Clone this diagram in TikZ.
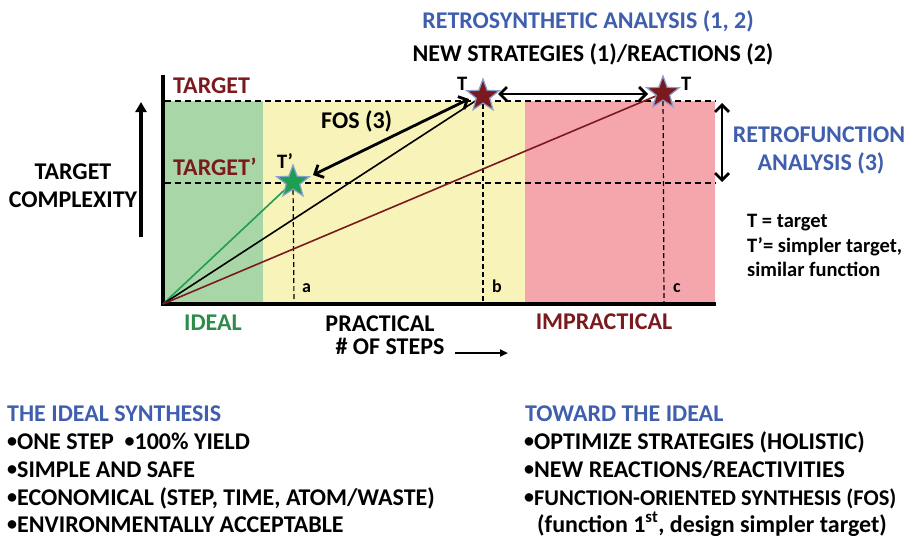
\documentclass[tikz,border=0pt]{standalone}
\usepackage{fontspec}
\setmainfont{Carlito}
\usetikzlibrary{shapes.geometric,arrows.meta}
\definecolor{dred}{HTML}{7A1A1E}
\definecolor{tblue}{HTML}{3F5FAE}
\definecolor{tgreen}{HTML}{2E8B4A}
\definecolor{zgreen}{HTML}{A9D6A7}
\definecolor{zyellow}{HTML}{F7F3B9}
\definecolor{zpink}{HTML}{F5A6AC}
\definecolor{sgreen}{HTML}{1E9E50}
\newcommand\mybul{\raisebox{0.12ex}{\fontsize{20}{20}\selectfont•}}
\tikzset{
  big/.style={font=\fontsize{24}{28}\selectfont\bfseries, inner sep=0pt, anchor=base west},
  mid/.style={font=\fontsize{20.5}{24}\selectfont\bfseries, inner sep=0pt, anchor=base west},
  small/.style={font=\fontsize{18}{21}\selectfont\bfseries, inner sep=0pt, anchor=base west},
  starnode/.style={star, star points=5, star point ratio=2.4, minimum size=34pt, inner sep=0pt, draw=tblue!60, line width=1.2pt},
  dashln/.style={dash pattern=on 6pt off 4pt, line width=1.4pt},
  dbl/.style={{Straight Barb[length=7pt,width=14pt]}-{Straight Barb[length=7pt,width=14pt]}, line width=2.8pt},
}
\begin{document}
\begin{tikzpicture}[x=1pt,y=-1pt]
\useasboundingbox (0,0) rectangle (905,539);
% regions
\fill[zgreen] (164,101) rectangle (263,304);
\fill[zyellow] (263,101) rectangle (525,304);
\fill[zpink] (525,101) rectangle (715,304);
% axes
\coordinate (O) at (163,304);
\coordinate (ytop) at (163,75);
\coordinate (xend) at (716,304);
\draw[line width=3.5pt] (ytop) -- (O) -- (xend);
% dashed horizontals
\coordinate (d1a) at (165,101); \coordinate (d1b) at (716,101);
\coordinate (d2a) at (165,183); \coordinate (d2b) at (716,183);
\draw[dashln] (d1a) -- (d1b);
\draw[dashln] (d2a) -- (d2b);
% stars positions
\coordinate (sp) at (293,182);
\coordinate (s1) at (483,96);
\coordinate (s2) at (663,93);
% vertical dashed
\coordinate (va) at (294,304); \coordinate (vb) at (483,304); \coordinate (vc) at (664,304);
\draw[dashln, line width=1.2pt, dash pattern=on 5pt off 3pt] (sp) -- (va);
\draw[dashln, line width=1.2pt, dash pattern=on 5pt off 3pt] (s1) -- (vb);
\draw[dashln, line width=1.2pt, dash pattern=on 5pt off 3pt] (s2) -- (vc);
% lines from origin
\draw[sgreen, line width=1.6pt] (O) -- (sp);
\draw[black, line width=1.6pt] (O) -- (s1);
\draw[dred, line width=1.6pt] (O) -- (s2);
% stars
\node[starnode, fill=sgreen] (tp) at (sp) {};
\node[starnode, fill=dred] (t1) at (s1) {};
\node[starnode, fill=dred] (t2) at (s2) {};
% arrows
\coordinate (fosA) at (313,175); \coordinate (fosB) at (469,99);
\draw[dbl] (fosA) -- (fosB);
\coordinate (hA) at (498,94); \coordinate (hB) at (648,94);
\draw[dbl] (hA) -- (hB);
\coordinate (vA) at (722,103); \coordinate (vB) at (722,182);
\draw[dbl] (vA) -- (vB);
\coordinate (upA) at (141,237); \coordinate (upB) at (141,102);
\draw[line width=3.5pt, -{Triangle[length=10pt,width=11pt]}] (upA) -- (upB);
\coordinate (stA) at (455,353); \coordinate (stB) at (508,353);
\draw[line width=2pt, -{Triangle[length=8pt,width=7pt]}] (stA) -- (stB);
% labels in chart
\node[big, tblue, anchor=base] (rsa) at (588,28) {RETROSYNTHETIC ANALYSIS (1, 2)};
\node[big, anchor=base] (nsr) at (593,61) {NEW STRATEGIES (1)/REACTIONS (2)};
\node[mid] (lt1) at (457,90) {T};
\node[mid] (lt2) at (681,90) {T};
\node[mid] (ltp) at (277,168) {T’};
\node[big, dred] (tg) at (173,93) {TARGET};
\node[big, dred] (tgp) at (173,175) {TARGET’};
\node[big] (fos) at (321,128) {FOS (3)};
\node[big, anchor=base] (tc1) at (73,179) {TARGET};
\node[big, anchor=base] (tc2) at (73,207) {COMPLEXITY};
\node[big, tblue, anchor=base] (rf1) at (819,142) {RETROFUNCTION};
\node[big, tblue, anchor=base] (rf2) at (821,170) {ANALYSIS (3)};
\node[small] (la) at (302,292) {a};
\node[small] (lb) at (492,292) {b};
\node[small] (lc) at (673,292) {c};
\node[big, tgreen, anchor=base] (ideal) at (213,330) {IDEAL};
\node[big, anchor=base] (prac) at (380,331) {PRACTICAL};
\node[big, anchor=base] (steps) at (390,354) {\# OF STEPS};
\node[big, dred, anchor=base] (impr) at (604,329) {IMPRACTICAL};
\node[mid] (lg1) at (747,227) {T = target};
\node[mid] (lg2) at (747,252) {T’= simpler target,};
\node[mid] (lg3) at (747,276) {similar function};
% bottom lists
\node[big, tblue] (l0) at (7,421) {THE IDEAL SYNTHESIS};
\node[big] (l1) at (7,449) {\mybul ONE STEP\ \ \mybul 100\% YIELD};
\node[big] (l2) at (7,477) {\mybul SIMPLE AND SAFE};
\node[big] (l3) at (7,505) {\mybul ECONOMICAL (STEP, TIME, ATOM/WASTE)};
\node[big] (l4) at (7,532) {\mybul ENVIRONMENTALLY ACCEPTABLE};
\node[big, tblue] (r0) at (525,421) {TOWARD THE IDEAL};
\node[big] (r1) at (524,449) {\mybul OPTIMIZE STRATEGIES (HOLISTIC)};
\node[big] (r2) at (524,477) {\mybul NEW REACTIONS/REACTIVITIES};
\node[big, font=\fontsize{22.5}{26}\selectfont\bfseries] (r3) at (524,505) {\mybul FUNCTION-ORIENTED SYNTHESIS (FOS)};
\node[big] (r4) at (537,532) {(function 1\textsuperscript{st}, design simpler target)};
\end{tikzpicture}
\end{document}
